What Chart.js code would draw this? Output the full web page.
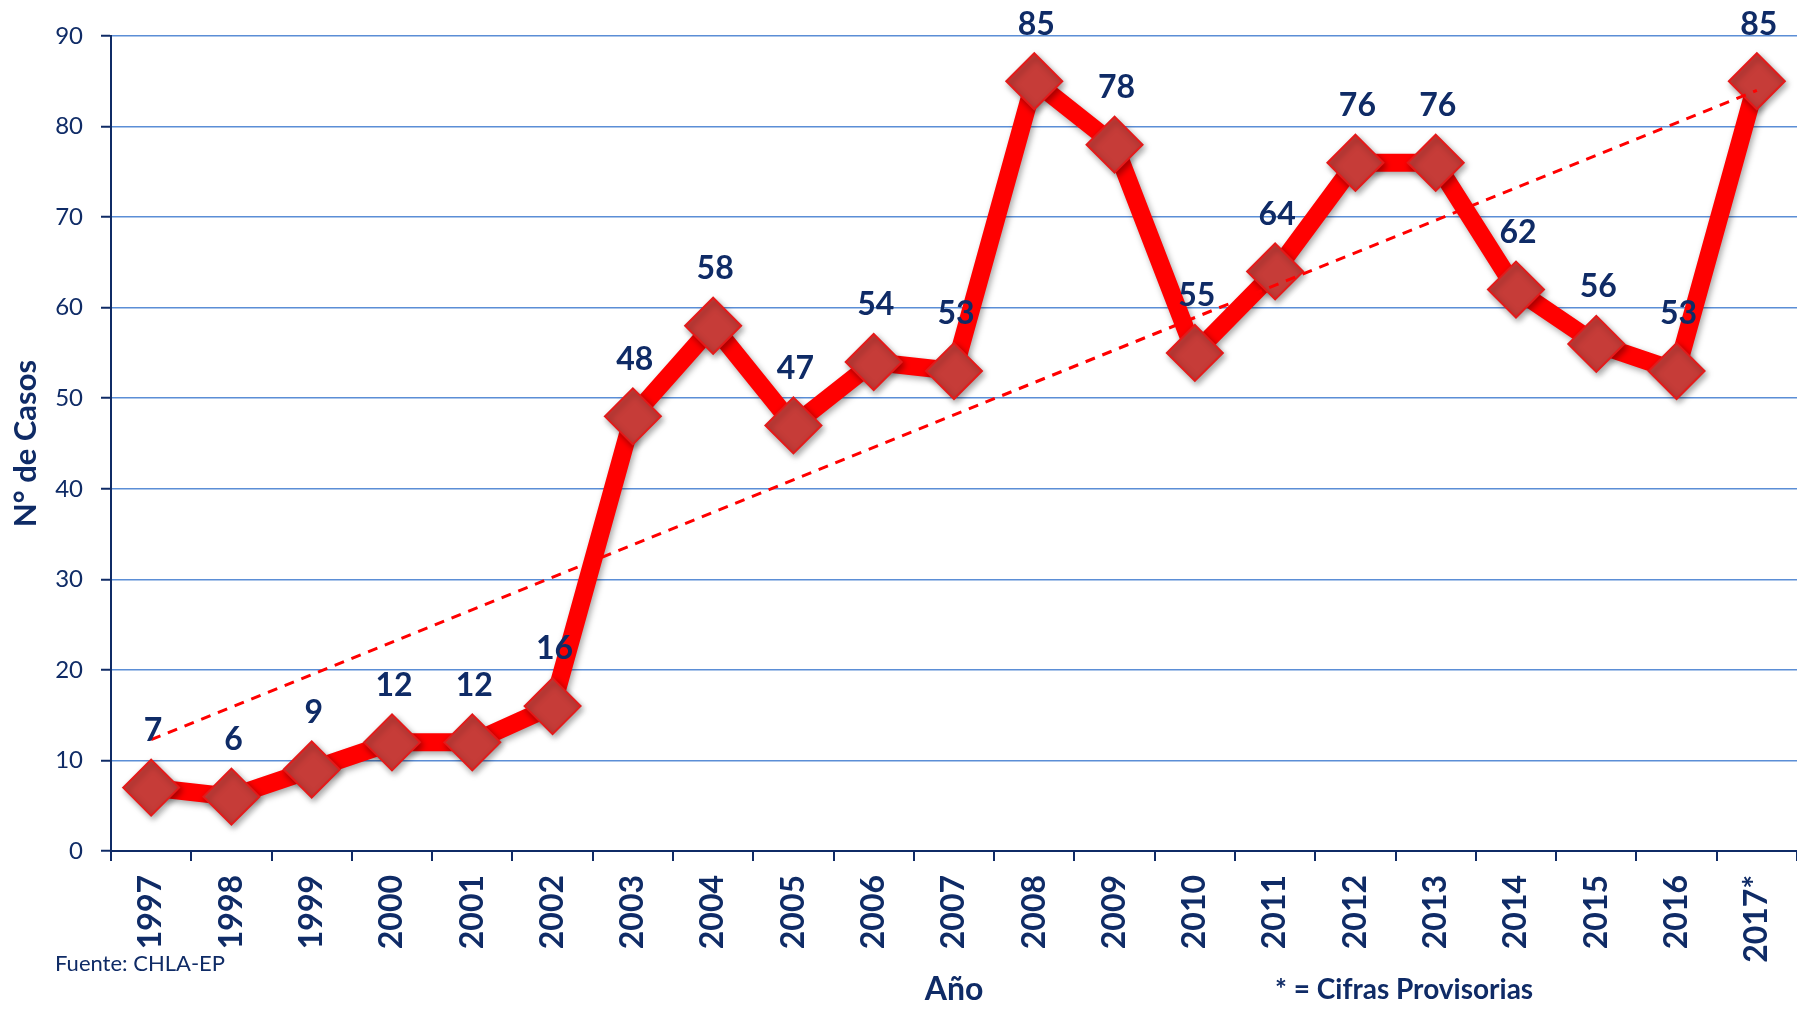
<!DOCTYPE html>
<html>
<head>
<meta charset="utf-8">
<script src="https://cdn.jsdelivr.net/npm/chart.js@4"></script>
<style>
  html, body { margin: 0; padding: 0; background: #fff; }
  #wrap { width: 1797px; height: 1009px; position: relative; }
</style>
</head>
<body>
<div id="wrap"><canvas id="casos"></canvas></div>
<script>
// ---- DATA ----
const years = ['1997', '1998', '1999', '2000', '2001', '2002', '2003', '2004', '2005', '2006',
  '2007', '2008', '2009', '2010', '2011', '2012', '2013', '2014', '2015', '2016', '2017*'];
const casos = [7, 6, 9, 12, 12, 16, 48, 58, 47, 54, 53, 85, 78, 55, 64, 76, 76, 62, 56, 53, 85];
// trend line ends
const trendYears = ['1997', '2017*'];
const trendValues = [12.3, 84.0];

const navy = '#0f2b66';
const fontFam = 'Lato, "Open Sans", sans-serif';

// value labels above each diamond + footnotes
const labelsPlugin = {
  id: 'labels',
  afterDatasetsDraw(chart) {
    const ctx = chart.ctx;
    const meta = chart.getDatasetMeta(1);
    ctx.save();
    ctx.fillStyle = navy;
    ctx.font = 'bold 32px ' + fontFam;
    ctx.textAlign = 'center';
    ctx.textBaseline = 'middle';
    meta.data.forEach((pt, i) => {
      ctx.fillText(casos[i], pt.x + 2, pt.y - 57);
    });
    ctx.textAlign = 'left';
    ctx.font = '22px ' + fontFam;
    ctx.fillText('Fuente: CHLA-EP', 55, 964);
    ctx.font = 'bold 28px ' + fontFam;
    ctx.fillText('* = Cifras Provisorias', 1275, 990);
    ctx.restore();
  }
};

// soft shadow under the diamonds
const shadowPlugin = {
  id: 'shadow',
  beforeDatasetDraw(chart, args) {
    if (args.index === 1) {
      chart.ctx.save();
      chart.ctx.shadowColor = 'rgba(0,0,0,0.35)';
      chart.ctx.shadowBlur = 6;
      chart.ctx.shadowOffsetX = 2;
      chart.ctx.shadowOffsetY = 3;
    }
  },
  afterDatasetDraw(chart, args) {
    if (args.index === 1) chart.ctx.restore();
  }
};

new Chart(document.getElementById('casos'), {
  type: 'line',
  data: {
    labels: years,
    datasets: [
      {
        label: 'Tendencia',
        data: trendYears.map((y, i) => ({x: y, y: trendValues[i]})),
        borderColor: '#ff0000',
        borderWidth: 3,
        borderDash: [10, 8],
        pointRadius: 0,
        fill: false,
        order: 0
      },
      {
        label: 'N° de Casos',
        data: casos,
        borderColor: '#ff0000',
        borderWidth: 18,
        pointStyle: 'rectRot',
        pointRadius: 28,
        pointBackgroundColor: '#c63c38',
        pointBorderColor: '#e41a1a',
        pointBorderWidth: 2,
        fill: false,
        tension: 0,
        order: 1
      }
    ]
  },
  options: {
    responsive: true,
    maintainAspectRatio: false,
    animation: false,
    layout: { autoPadding: false, padding: { top: 36, right: 0, bottom: 0, left: 0 } },
    plugins: {
      legend: { display: false },
      tooltip: { enabled: false }
    },
    scales: {
      x: {
        offset: true,
        grid: { display: true, drawOnChartArea: false, drawTicks: true, tickLength: 10, color: navy, lineWidth: 2, offset: true },
        border: { color: navy, width: 2 },
        ticks: {
          color: navy,
          font: { family: fontFam, size: 32, weight: 'bold' },
          minRotation: 90, maxRotation: 90,
          padding: 14,
          autoSkip: false
        },
        title: {
          display: true, text: 'Año', color: navy,
          font: { family: fontFam, size: 32, weight: 'bold' },
          padding: { top: 0, bottom: 0 }
        },
        afterFit(scale) {
          scale.height = 1009 - 851;
          scale.paddingLeft = 0;
          scale.paddingRight = 0;
        }
      },
      y: {
        min: 0, max: 90,
        ticks: {
          stepSize: 10, color: navy, padding: 18,
          font: { family: fontFam, size: 24 }
        },
        grid: { color: '#5b8ed6', lineWidth: 1.5, tickColor: navy, tickLength: 10, tickWidth: 2 },
        border: { color: navy, width: 2 },
        title: {
          display: true, text: 'N° de Casos', color: navy,
          font: { family: fontFam, size: 31, weight: 'bold' },
          padding: { top: 7, bottom: 0 }
        },
        afterFit(scale) { scale.width = 111; }
      }
    }
  },
  plugins: [labelsPlugin, shadowPlugin]
});
</script>
</body>
</html>
